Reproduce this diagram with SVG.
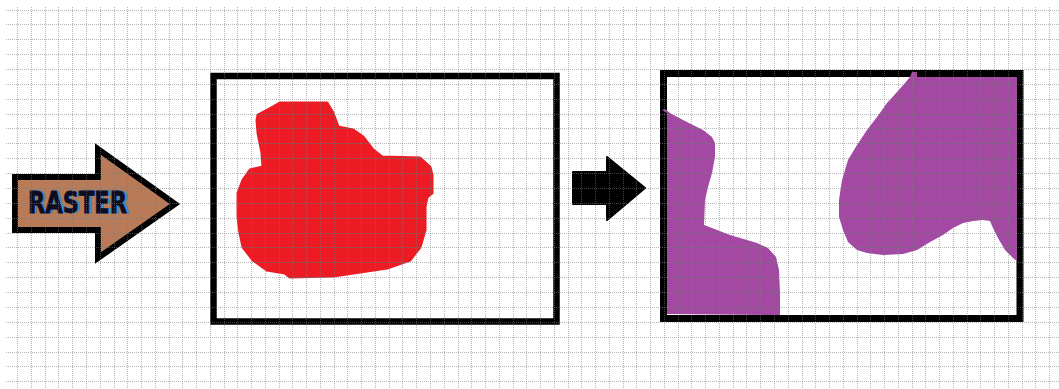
<svg xmlns="http://www.w3.org/2000/svg" width="1059" height="389" viewBox="0 0 1059 389">
<style>
.box{fill:none;stroke:#000;stroke-width:7}
.red{fill:#ED1C24;stroke:#ED1C24;stroke-width:3;stroke-linejoin:round}
.purple{fill:#A349A4}
.grid{fill:none;stroke:#7a7a7a;stroke-opacity:0.55;stroke-width:1;stroke-dasharray:1 1}
.lbl{font-family:"DejaVu Sans Condensed","DejaVu Sans",sans-serif;font-weight:bold;font-size:30px}
</style>
<rect width="1059" height="389" fill="#fff"/>
<g id="raster-arrow">
<polygon points="15,177 98,177 98,149 175,204 98,258 98,230 15,230" fill="#B97A57" stroke="#000" stroke-width="6" stroke-linejoin="miter"/>
<text class="lbl" x="29.5" y="213" fill="#3a8fd8" stroke="#3a8fd8" stroke-width="0.8" textLength="100" lengthAdjust="spacingAndGlyphs">RASTER</text>
<text class="lbl" x="28" y="213" fill="#0d0d1f" stroke="#0d0d1f" stroke-width="0.8" textLength="99" lengthAdjust="spacingAndGlyphs">RASTER</text>
</g>
<g id="input-box">
<rect class="box" x="213.5" y="76" width="343" height="245.5" style="stroke-width:6.5"/>
<path class="red" d="M258,115 L273,107 L280,103 L327,103 L333,113 L338,127 L353,130 L363,137 L373,150 L382,157 L420,158 L430,167 L432,175 L432,193 L427,197 L425,207 L425,230 L420,247 L410,260 L387,268 L360,272 L333,276 L290,277 L285,273 L267,270 L253,260 L243,247 L240,233 L238,217 L238,193 L243,180 L250,170 L263,167 L262,153 L258,133 L257,120 Z"/>
</g>
<g id="output-box">
<rect class="box" x="663.5" y="73.5" width="356.5" height="245"/>
<path class="purple" d="M662,110 L665,109 L670,113 L683,120 L703,130 L712,137 L715,143 L715,157 L712,173 L708,187 L705,200 L704,225 L712,228 L730,235 L757,243 L768,248 L776,257 L779,270 L780,293 L780,315 L773,315 L667,314 L667,113 Z"/>
<path class="purple" d="M912,72 L917,72 L917,77 L1017,77 L1017,260 L1018,262 L1013,258 L1005,250 L998,238 L993,228 L990,221 L983,220 L973,221 L963,223 L953,228 L943,235 L930,242 L917,250 L903,254 L883,255 L867,253 L857,250 L848,242 L843,230 L839,217 L839,200 L842,180 L848,160 L857,145 L867,130 L877,117 L887,103 L897,92 L905,83 L910,77 Z"/>
</g>
<g id="connectors">
<polygon points="573,172 607,172 607,157 645,188 607,220 607,204 573,204" fill="#000" stroke="#000" stroke-width="2" stroke-linejoin="round"/>
</g>
<path class="grid" d="M17.5 7V389M31.5 7V389M45.5 7V389M58.5 7V389M72.5 7V389M86.5 7V389M100.5 7V389M114.5 7V389M127.5 7V389M141.5 7V389M155.5 7V389M169.5 7V389M182.5 7V389M196.5 7V389M210.5 7V389M224.5 7V389M237.5 7V389M251.5 7V389M265.5 7V389M279.5 7V389M292.5 7V389M306.5 7V389M320.5 7V389M334.5 7V389M347.5 7V389M361.5 7V389M375.5 7V389M389.5 7V389M402.5 7V389M416.5 7V389M430.5 7V389M444.5 7V389M458.5 7V389M471.5 7V389M485.5 7V389M499.5 7V389M513.5 7V389M526.5 7V389M540.5 7V389M554.5 7V389M568.5 7V389M581.5 7V389M595.5 7V389M609.5 7V389M623.5 7V389M636.5 7V389M650.5 7V389M664.5 7V389M678.5 7V389M691.5 7V389M705.5 7V389M719.5 7V389M733.5 7V389M746.5 7V389M760.5 7V389M774.5 7V389M788.5 7V389M802.5 7V389M815.5 7V389M829.5 7V389M843.5 7V389M857.5 7V389M870.5 7V389M884.5 7V389M898.5 7V389M912.5 7V389M925.5 7V389M939.5 7V389M953.5 7V389M967.5 7V389M980.5 7V389M994.5 7V389M1008.5 7V389M1022.5 7V389M1035.5 7V389M1049.5 7V389M6 10.5H1059M6 24.5H1059M6 39.5H1059M6 54.5H1059M6 69.5H1059M6 84.5H1059M6 99.5H1059M6 114.5H1059M6 128.5H1059M6 143.5H1059M6 158.5H1059M6 173.5H1059M6 188.5H1059M6 203.5H1059M6 218.5H1059M6 233.5H1059M6 247.5H1059M6 262.5H1059M6 277.5H1059M6 292.5H1059M6 307.5H1059M6 322.5H1059M6 337.5H1059M6 352.5H1059M6 366.5H1059M6 381.5H1059"/>
</svg>
